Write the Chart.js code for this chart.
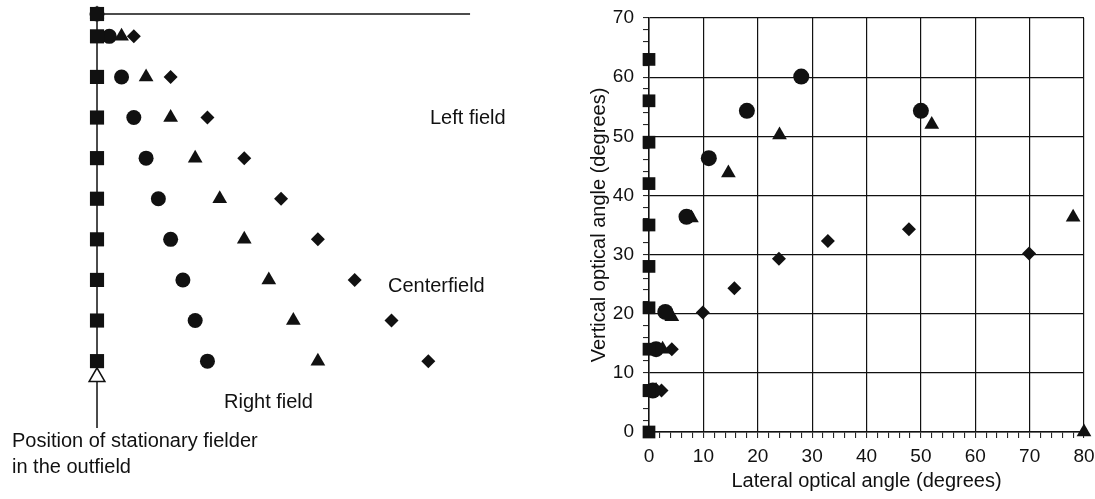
<!DOCTYPE html>
<html>
<head>
<meta charset="utf-8">
<script src="https://cdn.jsdelivr.net/npm/chart.js@4.4.0/dist/chart.umd.min.js"></script>
<style>
html,body{margin:0;padding:0;background:#fff;}
#wrap{position:relative;width:1095px;height:499px;overflow:hidden;background:#fff;}
canvas{position:absolute;top:0;}
.lbl{position:absolute;font-family:"Liberation Sans",Arial,sans-serif;font-size:20px;line-height:20px;color:#111;white-space:nowrap;}
</style>
</head>
<body>
<div id="wrap">
  <canvas id="field" width="560" height="499" style="left:0px"></canvas>
  <canvas id="angles" width="535" height="499" style="left:560px"></canvas>
  <div class="lbl" style="left:430px;top:107px">Left field</div>
  <div class="lbl" style="left:388px;top:275px">Centerfield</div>
  <div class="lbl" style="left:224px;top:391px">Right field</div>
  <div class="lbl" style="left:12px;top:430px">Position of stationary fielder</div>
  <div class="lbl" style="left:12px;top:456px">in the outfield</div>
</div>
<script>
// ---------- Left panel: ball positions, one row per time step ----------
const rowDepth       = [0, 0.55, 1.55, 2.55, 3.55, 4.55, 5.55, 6.55, 7.55, 8.55];
const squareOffset   = [0, 0, 0, 0, 0, 0, 0, 0, 0, 0];
const circleOffset   = [0, 1, 2, 3, 4, 5, 6, 7, 8, 9];
const triangleOffset = [0, 2, 4, 6, 8, 10, 12, 14, 16, 18];
const diamondOffset  = [0, 3, 6, 9, 12, 15, 18, 21, 24, 27];
const homeLineOffset = [0, 30.4];
const homeLineDepth  = [0, 0];
const fielderLineOffset = [0, 0];
const fielderLineDepth  = [0, 10.2];
const fielderMarkOffset = [0];
const fielderMarkDepth  = [8.94];

// ---------- Right panel: optical angles (degrees) ----------
const squareLateral   = [0, 0, 0, 0, 0, 0, 0, 0, 0, 0];
const squareVertical  = [0, 7, 14, 21, 28, 35, 42, 49, 56, 63];
const circleLateral   = [0.7, 1.3, 3, 6.9, 11, 18, 28, 50];
const circleVertical  = [7, 14, 20.3, 36.4, 46.3, 54.3, 60.1, 54.3];
const triangleLateral = [1.3, 2.5, 4.2, 7.8, 14.6, 24, 52, 78, 80];
const triangleVertical= [7, 14, 19.5, 36.2, 43.8, 50.2, 52, 36.3, 0];
const diamondLateral  = [2.3, 4.2, 9.9, 15.7, 23.9, 32.9, 47.8, 69.9];
const diamondVertical = [7, 14, 20.2, 24.3, 29.3, 32.3, 34.3, 30.2];
const xTickLabels = [0, 10, 20, 30, 40, 50, 60, 70, 80];
const yTickLabels = [0, 10, 20, 30, 40, 50, 60, 70];

const INK = '#111';
const zip = (xs, ys) => xs.map((x, i) => ({x: x, y: ys[i]}));

Chart.defaults.font.family = '"Liberation Sans", Arial, sans-serif';
Chart.defaults.color = INK;

const markerBase = {showLine: false, clip: false, backgroundColor: INK, borderColor: INK, borderWidth: 0, pointHoverRadius: 0};

// Left diagram
new Chart(document.getElementById('field'), {
  type: 'scatter',
  data: {
    datasets: [
      Object.assign({}, markerBase, {data: zip(squareOffset, rowDepth), pointStyle: 'rect', pointRadius: 10}),
      Object.assign({}, markerBase, {data: zip(circleOffset, rowDepth), pointStyle: 'circle', pointRadius: 7.5}),
      Object.assign({}, markerBase, {data: zip(triangleOffset, rowDepth), pointStyle: 'triangle', pointRadius: 8.5}),
      Object.assign({}, markerBase, {data: zip(diamondOffset, rowDepth), pointStyle: 'rectRot', pointRadius: 7}),
      {data: zip(fielderMarkOffset, fielderMarkDepth), showLine: false, clip: false, pointStyle: 'triangle', pointRadius: 9,
       backgroundColor: '#fff', borderColor: INK, borderWidth: 1.6},
      {data: zip(homeLineOffset, homeLineDepth), showLine: true, pointRadius: 0, borderColor: INK, borderWidth: 1.5, clip: false},
      {data: zip(fielderLineOffset, fielderLineDepth), showLine: true, pointRadius: 0, borderColor: INK, borderWidth: 1.5, clip: false}
    ]
  },
  options: {
    responsive: false, animation: false, devicePixelRatio: 1,
    layout: {padding: 0, autoPadding: false},
    plugins: {legend: {display: false}, tooltip: {enabled: false}},
    scales: {
      x: {type: 'linear', display: false, min: -7.905, max: 37.73},
      y: {type: 'linear', display: false, reverse: true, min: -0.345, max: 11.946}
    }
  }
});

// Right chart
const isMajor = (c, list) => c.tick && list.includes(c.tick.value);
new Chart(document.getElementById('angles'), {
  type: 'scatter',
  data: {
    datasets: [
      Object.assign({}, markerBase, {data: zip(squareLateral, squareVertical), pointStyle: 'rect', pointRadius: 9}),
      Object.assign({}, markerBase, {data: zip(circleLateral, circleVertical), pointStyle: 'circle', pointRadius: 8}),
      Object.assign({}, markerBase, {data: zip(triangleLateral, triangleVertical), pointStyle: 'triangle', pointRadius: 8.5}),
      Object.assign({}, markerBase, {data: zip(diamondLateral, diamondVertical), pointStyle: 'rectRot', pointRadius: 7})
    ]
  },
  options: {
    responsive: false, animation: false, devicePixelRatio: 1,
    layout: {padding: {top: 18, right: 11, left: 0, bottom: 0}, autoPadding: false},
    plugins: {legend: {display: false}, tooltip: {enabled: false}},
    scales: {
      x: {
        type: 'linear', min: 0, max: 80,
        afterFit: s => { s.height = 67; s.paddingLeft = 0; s.paddingRight = 0; },
        ticks: {stepSize: 2, autoSkip: false, maxRotation: 0, padding: 7, color: INK, font: {size: 19},
                callback: v => xTickLabels.includes(v) ? String(v) : ''},
        grid: {color: c => isMajor(c, xTickLabels) ? INK : 'rgba(0,0,0,0)', lineWidth: 1.2,
               tickLength: 6, tickColor: INK, tickWidth: 1},
        border: {color: INK, width: 1.5},
        title: {display: true, text: 'Lateral optical angle (degrees)', color: INK, font: {size: 20}, padding: {top: 0, bottom: 6}}
      },
      y: {
        type: 'linear', min: 0, max: 70,
        afterFit: s => { s.width = 89; s.paddingTop = 0; s.paddingBottom = 0; },
        ticks: {stepSize: 2, autoSkip: false, padding: 9, color: INK, font: {size: 19},
                callback: v => yTickLabels.includes(v) ? String(v) : ''},
        grid: {color: c => isMajor(c, yTickLabels) ? INK : 'rgba(0,0,0,0)', lineWidth: 1.2,
               tickLength: 6, tickColor: INK, tickWidth: 1},
        border: {color: INK, width: 1.5},
        title: {display: true, text: 'Vertical optical angle (degrees)', color: INK, font: {size: 20}, padding: {top: 27, bottom: 0}}
      }
    }
  }
});
</script>
</body>
</html>
